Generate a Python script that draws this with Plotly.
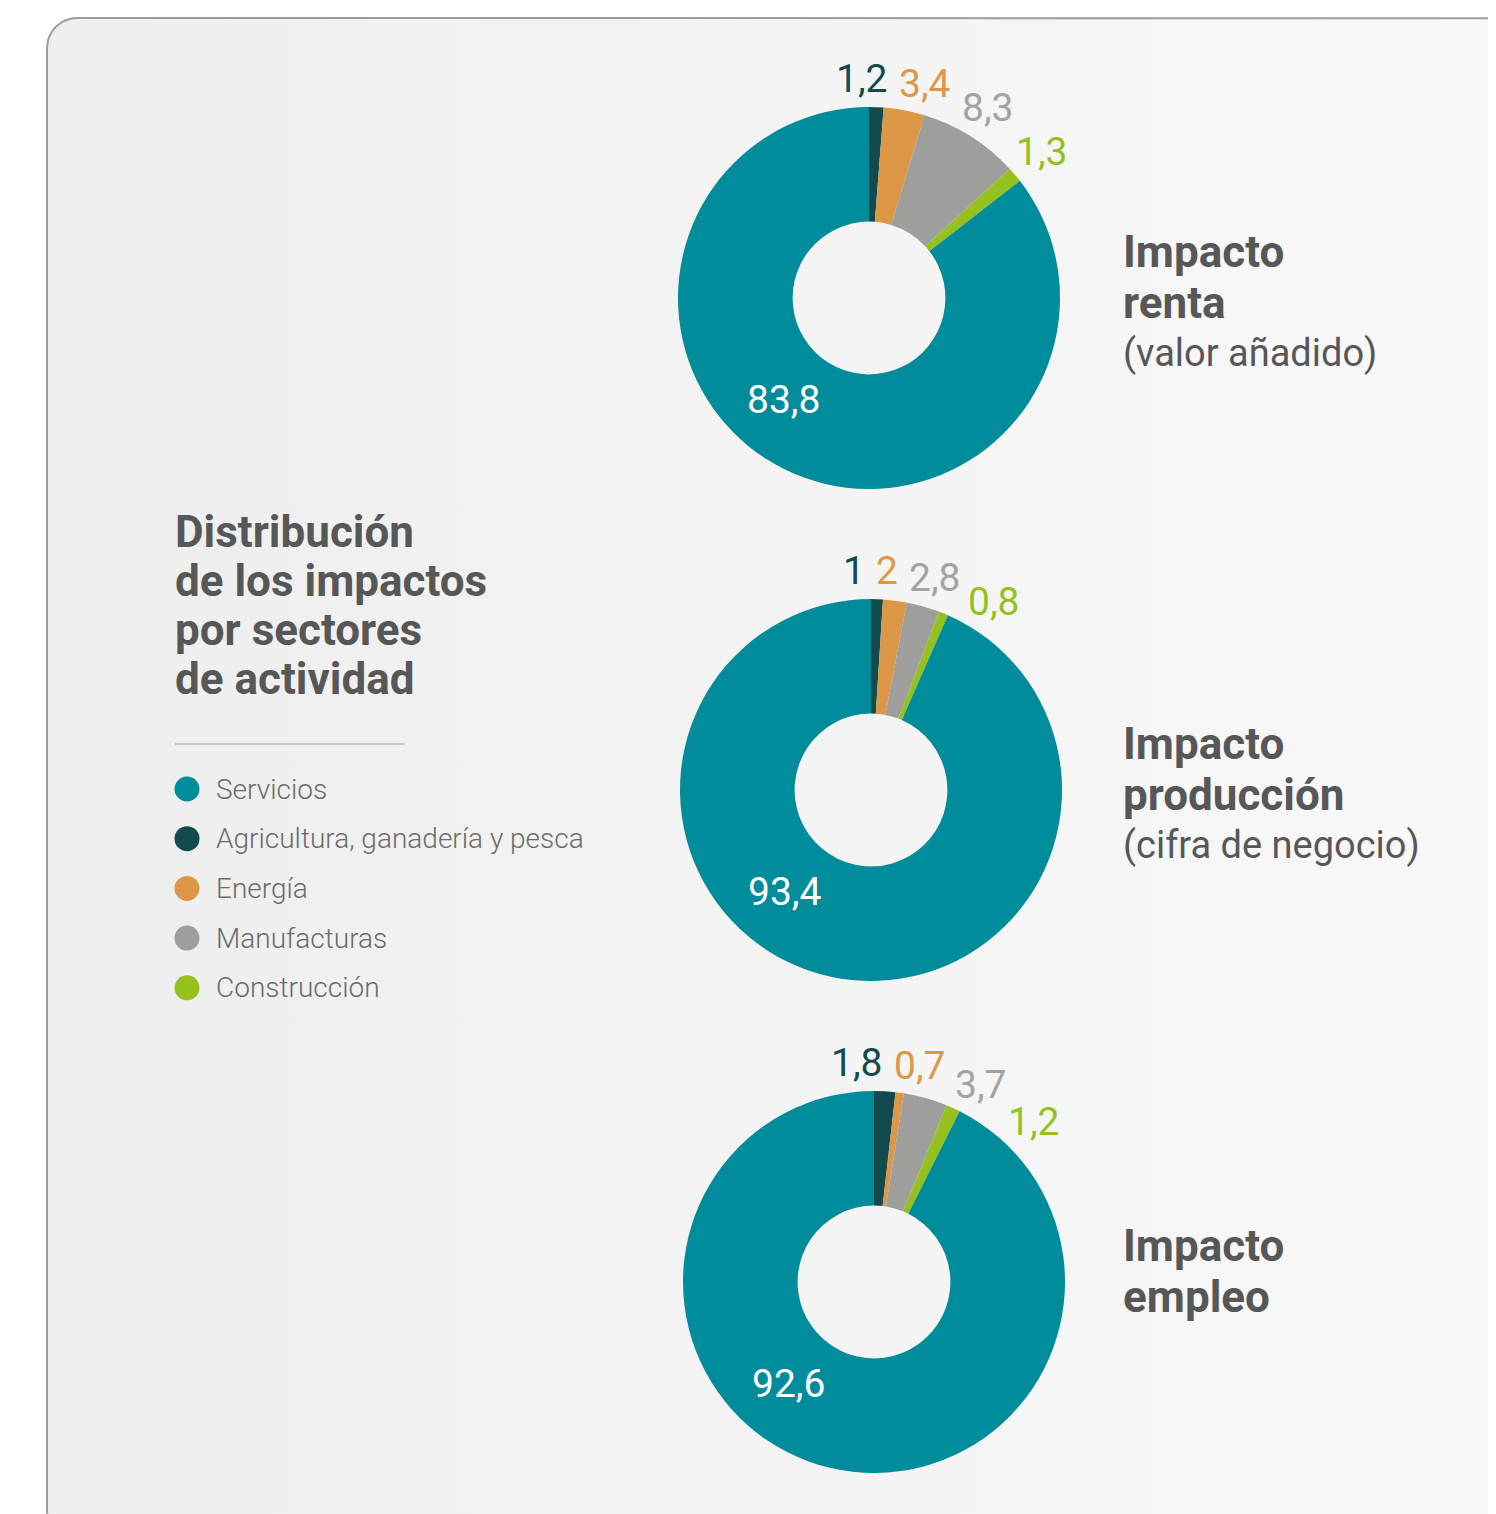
import math
import plotly.graph_objects as go

# ---------------- data ----------------
sectors = ["Servicios", "Agricultura, ganadería y pesca", "Energía", "Manufacturas", "Construcción"]
renta = [83.8, 1.2, 3.4, 8.3, 1.3]
produccion = [93.4, 1.0, 2.0, 2.8, 0.8]
empleo = [92.6, 1.8, 0.7, 3.7, 1.2]
chart_titles = [
    ["Impacto", "renta", "(valor añadido)"],
    ["Impacto", "producción", "(cifra de negocio)"],
    ["Impacto", "empleo"],
]
main_title = ["Distribución", "de los impactos", "por sectores", "de actividad"]

# ---------------- style ----------------
PAGE_W, PAGE_H = 1496, 1514
OFF = 8  # browser body margin
W, H = PAGE_W - OFF, PAGE_H - OFF
slice_colors = ["#008c9b", "#134a4e", "#dc9846", "#9e9f9d", "#95c11f"]
label_colors = ["#ffffff", "#134a4e", "#dc9846", "#a3a3a3", "#95c11f"]
FONT = "Roboto, Liberation Sans, sans-serif"
TXT = "#575757"
centers = [(869, 298), (871, 790), (874, 1282)]
R = 191
HOLE = 0.4
LABEL_R = 219
LABEL_FS = 39


def fx(x):
    return (x - OFF) / W


def fy(y):
    return 1 - (y - OFF) / H


fig = go.Figure()

# background rounded panel with a soft horizontal gradient
x0, y0, x1, y1, rc = 47, 18, 1560, 1540, 30
px, py = [], []
for (cx, cy, a0) in [(x0 + rc, y0 + rc, 180), (x1 - rc, y0 + rc, 270), (x1 - rc, y1 - rc, 0), (x0 + rc, y1 - rc, 90)]:
    for k in range(13):
        a = math.radians(a0 + 90 * k / 12)
        px.append(cx + rc * math.cos(a))
        py.append(cy + rc * math.sin(a))
px.append(px[0]); py.append(py[0])
fig.add_trace(go.Scatter(
    x=px, y=py, mode="lines", fill="toself",
    fillgradient=dict(type="horizontal", colorscale=[[0, "#eeeeee"], [1, "#f9f9f9"]]),
    line=dict(color="#9c9c9c", width=2), hoverinfo="skip", showlegend=False))


def fmt(v):
    return f"{v:g}".replace(".", ",")


def text_w(s):
    return sum(21 if ch.isdigit() else 9 for ch in s)


def spread(mids, seps, lo):
    offs = [0.0]
    for s in seps:
        offs.append(offs[-1] + s)
    t = [m - o for m, o in zip(mids, offs)]
    blocks = []
    for v in t:
        blocks.append([v, 1])
        while len(blocks) > 1 and blocks[-2][0] / blocks[-2][1] > blocks[-1][0] / blocks[-1][1]:
            s, c = blocks.pop()
            blocks[-1][0] += s
            blocks[-1][1] += c
    fit = []
    for s, c in blocks:
        fit += [s / c] * c
    fit = [max(f, lo) for f in fit]
    return [f + o for f, o in zip(fit, offs)]


annotations = []
for ci, vals in enumerate([renta, produccion, empleo]):
    cx, cy = centers[ci]
    order = [1, 2, 3, 4, 0]
    fig.add_trace(go.Pie(
        values=[vals[i] for i in order],
        labels=[sectors[i] for i in order],
        marker=dict(colors=[slice_colors[i] for i in order], line=dict(width=0)),
        sort=False, direction="clockwise", rotation=0, hole=HOLE,
        textinfo="none", hoverinfo="label+value", showlegend=False,
        domain=dict(x=[fx(cx - R), fx(cx + R)], y=[fy(cy + R), fy(cy - R)]),
    ))
    total = sum(vals)
    cum = 0.0
    mids, texts, cols = [], [], []
    for i in order[:-1]:
        ang = (cum + vals[i] / 2) / total * 360
        cum += vals[i]
        mids.append(ang)
        texts.append(fmt(vals[i]))
        cols.append(label_colors[i])
    seps = [math.degrees((text_w(texts[k]) / 2 + text_w(texts[k + 1]) / 2 + 12) / LABEL_R)
            for k in range(len(texts) - 1)]
    angs = spread(mids, seps, -4.4)
    for a, t, c in zip(angs, texts, cols):
        r = math.radians(a)
        rr = LABEL_R + 10 * abs(math.sin(r))
        annotations.append(dict(
            x=cx + rr * math.sin(r), y=cy - rr * math.cos(r), xref="x", yref="y",
            text=t, showarrow=False, xanchor="center", yanchor="middle",
            font=dict(family=FONT, size=LABEL_FS, color=c)))
    # big slice label inside the ring
    r_in = R * (1 + HOLE) / 2
    a = math.radians(220)
    annotations.append(dict(
        x=cx + r_in * math.sin(a), y=cy - r_in * math.cos(a), xref="x", yref="y",
        text=fmt(vals[0]), showarrow=False, xanchor="center", yanchor="middle",
        font=dict(family=FONT, size=LABEL_FS, color=label_colors[0])))
    # right side titles
    lines = chart_titles[ci]
    top = cy - 46 if len(lines) == 3 else cy - 36
    for li, line in enumerate(lines):
        bold = li < 2
        annotations.append(dict(
            x=1121, y=top + li * 50.5, xref="x", yref="y", text=line, showarrow=False,
            xanchor="left", yanchor="middle",
            font=dict(family=FONT, size=44 if bold else 38, color=TXT, weight="bold" if bold else "normal")))

# main title
for li, line in enumerate(main_title):
    annotations.append(dict(
        x=173, y=532 + li * 49, xref="x", yref="y", text=line, showarrow=False,
        xanchor="left", yanchor="middle",
        font=dict(family=FONT, size=44, color=TXT, weight="bold")))

# separator
shapes = [dict(type="line", xref="x", yref="y", x0=175, x1=405, y0=744, y1=744,
               line=dict(color="#c8c8c8", width=2))]

# legend
leg_y = [789 + 49.7 * i for i in range(len(sectors))]
fig.add_trace(go.Scatter(
    x=[187] * len(sectors), y=leg_y, mode="markers",
    marker=dict(size=25, color=slice_colors, line=dict(width=0)),
    hoverinfo="skip", showlegend=False))
for name, yy in zip(sectors, leg_y):
    annotations.append(dict(
        x=214, y=yy, xref="x", yref="y", text=name, showarrow=False,
        xanchor="left", yanchor="middle",
        font=dict(family=FONT, size=28, color="#6b6b6b", weight=300)))

fig.update_layout(
    width=W, height=H, margin=dict(l=0, r=0, t=0, b=0),
    paper_bgcolor="white", plot_bgcolor="rgba(0,0,0,0)",
    xaxis=dict(range=[OFF, OFF + W], visible=False, fixedrange=True, domain=[0, 1]),
    yaxis=dict(range=[OFF + H, OFF], visible=False, fixedrange=True, domain=[0, 1]),
    annotations=annotations, shapes=shapes, showlegend=False,
)
fig.write_html("out.html")
